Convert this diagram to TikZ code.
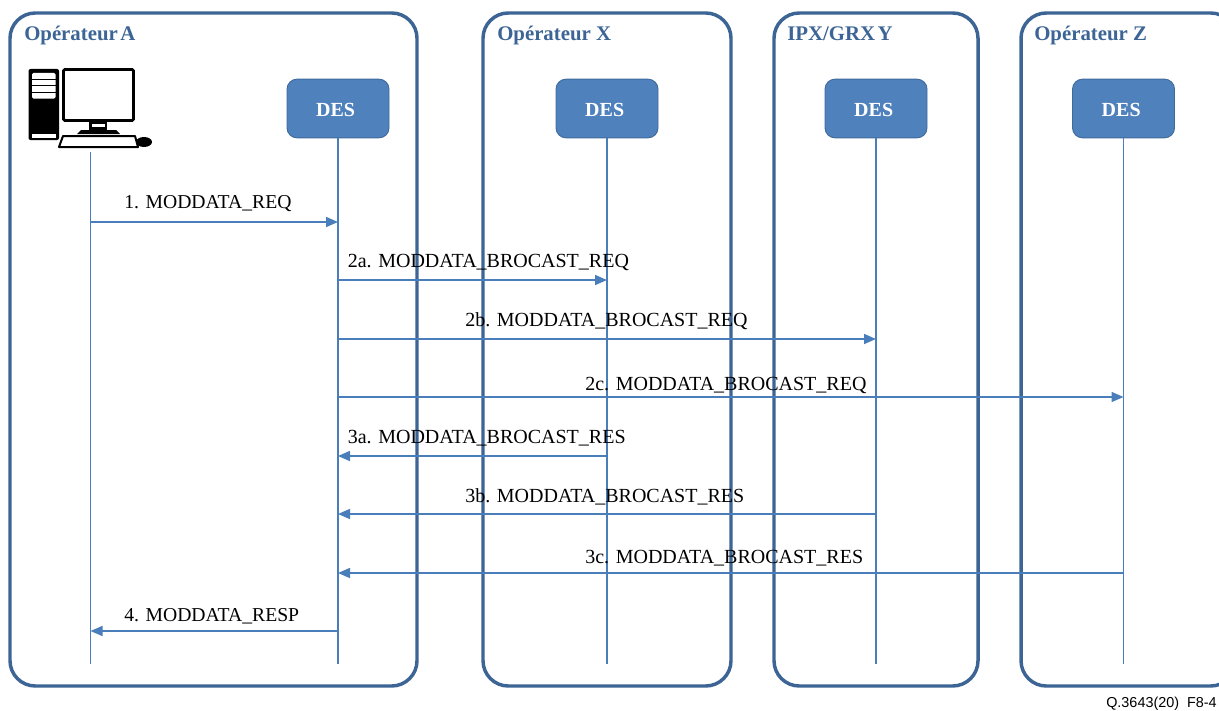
\documentclass[tikz,border=0pt]{standalone}
\usepackage{fontspec}
\setmainfont{Liberation Serif}
\newfontfamily\capfont{Liberation Sans}
\usetikzlibrary{arrows.meta}
\definecolor{panelc}{HTML}{3C6595}
\definecolor{boxc}{HTML}{4F81BD}
\definecolor{boxe}{HTML}{3F6A9C}
\definecolor{linec}{HTML}{4A7EBB}
\tikzset{
 panel/.style={draw=panelc,line width=2.6pt,rounded corners=19pt,fill=none},
 paneltitle/.style={anchor=base west,text=panelc,font=\fontsize{15.6}{17}\selectfont\bfseries,inner sep=0pt},
 desbox/.style={draw=boxe,fill=boxc,line width=0.7pt,rounded corners=7.5pt,minimum width=76.5pt,minimum height=44pt,inner sep=0pt,text=white,font=\fontsize{15}{17}\selectfont\bfseries},
 lifeline/.style={draw=linec,line width=0.8pt},
 msg/.style={draw=linec,line width=1.15pt,-{Triangle[length=9pt,width=7.5pt]}},
 msglabel/.style={anchor=base west,inner sep=0pt,font=\fontsize{15}{17}\selectfont},
 shortlabel/.style={msglabel,font=\fontsize{14.75}{17}\selectfont},
 blk/.style={fill=black,draw=none},
}
\newcommand{\destext}{\raisebox{-1.3pt}[0.66em][0pt]{DES}\kern3.5pt\relax}
\begin{document}
\begin{tikzpicture}[x=0.75pt,y=-0.75pt]
\useasboundingbox (0,0) rectangle (1219,710);
\clip (0,0) rectangle (1219,710);
% panels
\draw[panel] (10,13) rectangle (417,686);
\draw[panel] (483,13) rectangle (731,686);
\draw[panel] (774,13) rectangle (978,686);
\draw[panel] (1021,13) rectangle (1236,686);
\node[paneltitle] (ta) at (24,40.5) {Opérateur\hspace{-2pt} A};
\node[paneltitle] (tx) at (497,40.5) {Opérateur X};
\node[paneltitle] (ti) at (787,40.5) {IPX/GRX\hspace{-2pt} Y};
\node[paneltitle] (tz) at (1034,40.5) {Opérateur Z};
% nodes
\node[desbox] (d1) at (338,108.5) {\destext};
\node[desbox] (d2) at (607,108.5) {\destext};
\node[desbox] (d3) at (876,108.5) {\destext};
\node[desbox] (d4) at (1123.5,108.5) {\destext};
% computer icon
\coordinate (pc) at (90.5,152);
\begin{scope}
\fill[blk,rounded corners=1.5pt] (28.5,69) rectangle (59,140);
\fill[white,rounded corners=1pt] (32,73) rectangle (55.5,98.5);
\draw[black,line width=0.6pt] (32,79.5)--(55.5,79.5) (32,85.5)--(55.5,85.5) (32,92)--(55.5,92);
\fill[white] (32,134) rectangle (55.5,137.5);
\draw[black,line width=2.2pt,rounded corners=1pt] (63.5,69.5) rectangle (133.5,120.5);
\fill[blk] (89,121) rectangle (107,133);
\fill[white] (92,123.5) rectangle (105,127);
\fill[blk] (77,134) -- (81,130) -- (116,130) -- (120,134) -- cycle;
\draw[black,line width=1.5pt,line join=round,fill=white] (63,136) -- (135,136) -- (138,147) -- (59,147) -- cycle;
\fill[blk] (144,142) ellipse (8 and 5);
\end{scope}
% lifelines
\coordinate (e0) at (90.5,664);
\coordinate (e1) at (338,664);
\coordinate (e2) at (607,664);
\coordinate (e3) at (876,664);
\coordinate (e4) at (1123.5,664);
\draw[lifeline] (pc) -- (e0);
\draw[lifeline] (d1) -- (e1);
\draw[lifeline] (d2) -- (e2);
\draw[lifeline] (d3) -- (e3);
\draw[lifeline] (d4) -- (e4);
% message end points
\coordinate (m1a) at (90.5,222);  \coordinate (m1b) at (338,222);
\coordinate (m2a) at (338,280);     \coordinate (m2b) at (607,280);
\coordinate (m3a) at (338,339);     \coordinate (m3b) at (876,339);
\coordinate (m4a) at (338,397);   \coordinate (m4b) at (1123.5,397);
\coordinate (m5a) at (607,456);     \coordinate (m5b) at (338,456);
\coordinate (m6a) at (876,514);     \coordinate (m6b) at (338,514);
\coordinate (m7a) at (1123.5,573);  \coordinate (m7b) at (338,573);
\coordinate (m8a) at (338,631);   \coordinate (m8b) at (90.5,631);
\draw[msg] (m1a) -- (m1b);
\draw[msg] (m2a) -- (m2b);
\draw[msg] (m3a) -- (m3b);
\draw[msg] (m4a) -- (m4b);
\draw[msg] (m5a) -- (m5b);
\draw[msg] (m6a) -- (m6b);
\draw[msg] (m7a) -- (m7b);
\draw[msg] (m8a) -- (m8b);
% labels
\node[shortlabel] (l1) at (124,208.5) {1. MODDATA\_REQ};
\node[msglabel] (l2) at (347.5,267) {2a. MODDATA\_BROCAST\_REQ};
\node[msglabel] (l3) at (465,326.5) {2b. MODDATA\_BROCAST\_REQ};
\node[msglabel] (l4) at (585,390) {2c. MODDATA\_BROCAST\_REQ};
\node[msglabel] (l5) at (347.5,443.5) {3a. MODDATA\_BROCAST\_RES};
\node[msglabel] (l6) at (465,502.5) {3b. MODDATA\_BROCAST\_RES};
\node[msglabel] (l7) at (585,563.5) {3c. MODDATA\_BROCAST\_RES};
\node[shortlabel] (l8) at (124,621.5) {4. MODDATA\_RESP};
\node[anchor=base west,inner sep=0pt,font=\capfont\fontsize{10.8}{12}\selectfont] (cap) at (1106,707) {Q.3643(20)\hspace{0.55em}F8-4};
\end{tikzpicture}
\end{document}
